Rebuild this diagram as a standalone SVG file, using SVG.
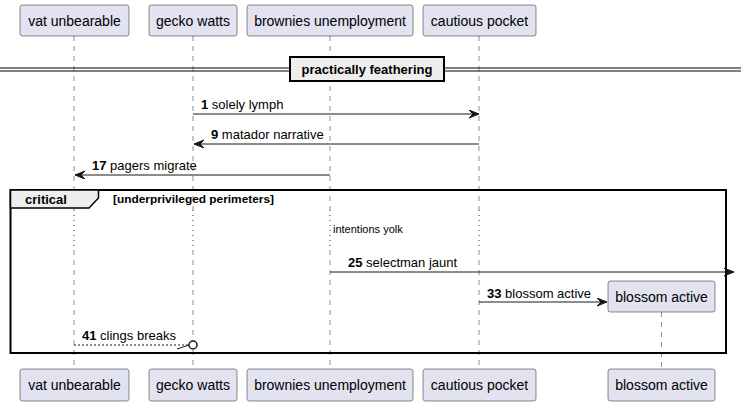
<svg xmlns="http://www.w3.org/2000/svg" width="741" height="406" viewBox="0 0 741 406">
<defs>
<style>
.pbox{fill:#E2E2F0;stroke:#181818;stroke-width:0.5}
.ptxt{font-family:"Liberation Sans",Arial,sans-serif;font-size:14px;fill:#000;text-anchor:middle}
.life{stroke:#181818;stroke-width:0.5;stroke-dasharray:5,5;fill:none}
.delay{stroke:#A80036;stroke-width:1;stroke-dasharray:1,4;fill:none}
.msg{stroke:#181818;stroke-width:1;fill:none}
.mtxt{font-family:"Liberation Sans",Arial,sans-serif;font-size:13px;fill:#000}
.num{font-weight:bold}
.head{fill:#181818;stroke:#181818;stroke-width:1}
</style>
<marker id="arr" markerWidth="12" markerHeight="10" refX="10" refY="4" orient="auto" markerUnits="userSpaceOnUse" viewBox="0 0 12 10">
<polygon points="0,0 10,4 0,8 4,4" fill="#181818" stroke="#181818" stroke-width="1"/>
</marker>
</defs>
<rect width="741" height="406" fill="#FFFFFF"/>

<g id="lifelines">
<line class="life" x1="74" y1="36" x2="74" y2="210"/>
<line class="life" x1="74" y1="250" x2="74" y2="369"/>
<line class="delay" x1="74" y1="210" x2="74" y2="250"/>
<line class="life" x1="193" y1="36" x2="193" y2="210"/>
<line class="life" x1="193" y1="250" x2="193" y2="369"/>
<line class="delay" x1="193" y1="210" x2="193" y2="250"/>
<line class="life" x1="330" y1="36" x2="330" y2="210"/>
<line class="life" x1="330" y1="250" x2="330" y2="369"/>
<line class="delay" x1="330" y1="210" x2="330" y2="250"/>
<line class="life" x1="479" y1="36" x2="479" y2="210"/>
<line class="life" x1="479" y1="250" x2="479" y2="369"/>
<line class="delay" x1="479" y1="210" x2="479" y2="250"/>
<line class="life" x1="661.5" y1="312" x2="661.5" y2="369"/>
</g>

<g id="divider">
<line x1="0" y1="68" x2="741" y2="68" stroke="#000" stroke-width="1"/>
<line x1="0" y1="71" x2="741" y2="71" stroke="#000" stroke-width="1"/>
<rect x="290" y="57" width="154" height="24" fill="#EEEEEE" stroke="#000" stroke-width="2"/>
<text x="367" y="74" font-family="Liberation Sans,Arial,sans-serif" font-size="13" font-weight="bold" text-anchor="middle">practically feathering</text>
</g>

<g id="group-critical">
<rect x="10.5" y="190" width="715.5" height="163" fill="none" stroke="#000" stroke-width="2"/>
<polygon points="10.5,190 98.5,190 98.5,198 89,208 10.5,208" fill="#EEEEEE" stroke="#000" stroke-width="1.5"/>
<text x="25" y="204" font-family="Liberation Sans,Arial,sans-serif" font-size="13" font-weight="bold">critical</text>
<text x="113" y="203" font-family="Liberation Sans,Arial,sans-serif" font-size="11" font-weight="bold" textLength="161" lengthAdjust="spacingAndGlyphs">[underprivileged perimeters]</text>
</g>

<g id="delay">
<text x="333" y="233" font-family="Liberation Sans,Arial,sans-serif" font-size="11">intentions yolk</text>
</g>

<g id="connectors">
<line class="msg" x1="193" y1="114" x2="479" y2="114" marker-end="url(#arr)"/>
<text class="mtxt" x="201" y="109"><tspan class="num">1</tspan> solely lymph</text>

<line class="msg" x1="479" y1="144" x2="194" y2="144" marker-end="url(#arr)"/>
<text class="mtxt" x="211" y="139"><tspan class="num">9</tspan> matador narrative</text>

<line class="msg" x1="330" y1="175" x2="75" y2="175" marker-end="url(#arr)"/>
<text class="mtxt" x="92" y="170"><tspan class="num">17</tspan> pagers migrate</text>

<line class="msg" x1="330" y1="272" x2="734" y2="272" marker-end="url(#arr)"/>
<text class="mtxt" x="348" y="267"><tspan class="num">25</tspan> selectman jaunt</text>

<line class="msg" x1="479" y1="302" x2="607" y2="302" marker-end="url(#arr)"/>
<text class="mtxt" x="487" y="298"><tspan class="num">33</tspan> blossom active</text>

<line x1="74" y1="345" x2="189" y2="345" stroke="#181818" stroke-width="1" stroke-dasharray="2,2"/>
<line x1="177" y1="349" x2="189" y2="345" stroke="#181818" stroke-width="1"/>
<circle cx="193" cy="345" r="4" fill="#FFFFFF" stroke="#181818" stroke-width="1.5"/>
<text class="mtxt" x="82" y="340"><tspan class="num">41</tspan> clings breaks</text>
</g>

<g id="p-vat-unbearable">
<rect class="pbox" x="20" y="5" width="109" height="31" rx="2.5"/>
<text class="ptxt" x="74.5" y="25.5">vat unbearable</text>
<rect class="pbox" x="20" y="369" width="109" height="32" rx="2.5"/>
<text class="ptxt" x="74.5" y="390">vat unbearable</text>
</g>
<g id="p-gecko-watts">
<rect class="pbox" x="149" y="5" width="88" height="31" rx="2.5"/>
<text class="ptxt" x="193" y="25.5">gecko watts</text>
<rect class="pbox" x="149" y="369" width="88" height="32" rx="2.5"/>
<text class="ptxt" x="193" y="390">gecko watts</text>
</g>
<g id="p-brownies-unemployment">
<rect class="pbox" x="247" y="5" width="166" height="31" rx="2.5"/>
<text class="ptxt" x="330" y="25.5">brownies unemployment</text>
<rect class="pbox" x="247" y="369" width="166" height="32" rx="2.5"/>
<text class="ptxt" x="330" y="390">brownies unemployment</text>
</g>
<g id="p-cautious-pocket">
<rect class="pbox" x="423" y="5" width="113" height="31" rx="2.5"/>
<text class="ptxt" x="479.5" y="25.5">cautious pocket</text>
<rect class="pbox" x="423" y="369" width="113" height="32" rx="2.5"/>
<text class="ptxt" x="479.5" y="390">cautious pocket</text>
</g>
<g id="p-blossom-active">
<rect class="pbox" x="608" y="281" width="107" height="31" rx="2.5"/>
<text class="ptxt" x="661.5" y="302">blossom active</text>
<rect class="pbox" x="608" y="369" width="107" height="32" rx="2.5"/>
<text class="ptxt" x="661.5" y="390">blossom active</text>
</g>
</svg>
